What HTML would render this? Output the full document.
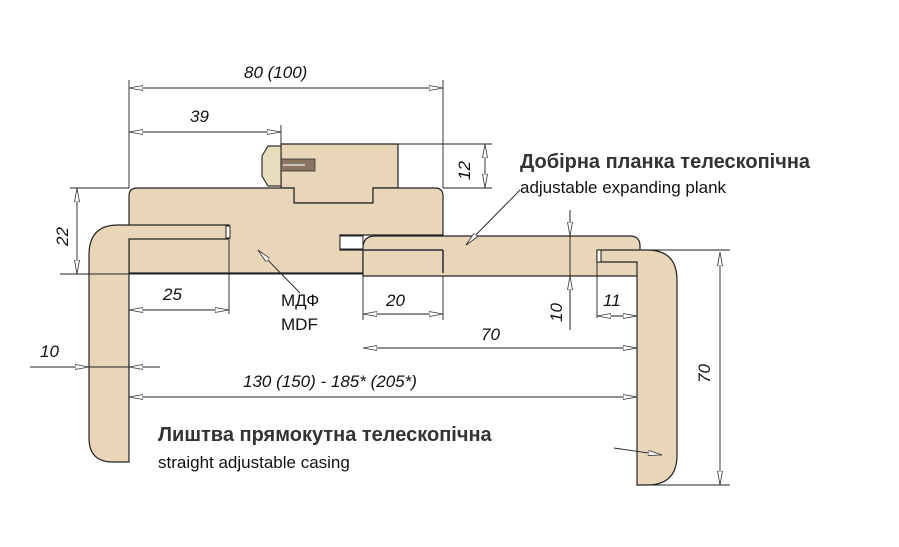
<!DOCTYPE html>
<html><head><meta charset="utf-8"><style>
html,body{margin:0;padding:0;background:#fff;}
svg{display:block;}
text{font-family:"Liberation Sans","DejaVu Sans",sans-serif;}
</style></head><body>
<svg width="899" height="547" viewBox="0 0 899 547" xmlns="http://www.w3.org/2000/svg">
<defs>
<marker id="a" viewBox="0 0 14 6" refX="14" refY="3" markerWidth="14" markerHeight="6" orient="auto-start-reverse" markerUnits="userSpaceOnUse">
<path d="M0,0.5 L14,3 L0,5.5 Z" fill="#fff" stroke="#333" stroke-width="0.8"/></marker>
</defs>
<g fill="#e9d6b9" stroke="#222" stroke-width="1.2">
<!-- top small plank -->
<path d="M281,144 H398 V188 H373 V203 H294 V188 H281 Z"/>
<!-- main frame -->
<path d="M137,188 H294 V203 H373 V188 H435 Q443,188 443,196 V235 H340 V250 H363 V273 H129 V196 Q129,188 137,188 Z"/>
<!-- telescopic plank -->
<path d="M375,236 H630 Q640,236 640,246 V276 H363 V248 Q363,236 375,236 Z"/>
<!-- left casing -->
<path d="M118,225 H229 V239 H129 V462 H113 Q89,462 89,438 V255 Q89,225 118,225 Z"/>
<!-- right casing -->
<path d="M597,250 H647 Q677,250 677,280 V455 Q677,485 647,485 H637 V262 H597 Z"/>
</g>
<!-- slots -->
<g fill="#fff" stroke="#222" stroke-width="1">
<rect x="340" y="236" width="23" height="13"/>
<rect x="226" y="226" width="4" height="12"/>
<rect x="597" y="250" width="4" height="12"/>
</g>
<path d="M129,239 H229" stroke="#222" stroke-width="1"/>
<path d="M363,250 H443 M443,250 V273" stroke="#555" stroke-width="2" fill="none"/>
<!-- clip -->
<path d="M268,146 H281 V186 H268 L262,176 V156 Z" fill="#e7dcbc" stroke="#333" stroke-width="1.2"/>
<rect x="281" y="159" width="34" height="12" fill="#8a7560" stroke="#333" stroke-width="0.8"/>
<path d="M283,165 H305" stroke="#ddd" stroke-width="1.5"/>
<!-- extension lines -->
<g stroke="#222" stroke-width="0.9" fill="none">
<path d="M129,80 V188 M443,80 V188 M281,125 V144 M398,144 H492 M443,188 H492"/>
<path d="M70,188 H129 M60,274 H363"/>
<path d="M229,240 V314 M363,276 V320 M443,276 V320 M597,262 V318 M637,276 V318"/>
<path d="M570,210 V330 M640,250 H730 M637,485 H730"/>
<path d="M30,367 H160"/>
</g>
<!-- dimension lines -->
<g stroke="#222" stroke-width="0.9" fill="none" marker-start="url(#a)" marker-end="url(#a)">
<path d="M129,88 H443"/>
<path d="M129,132 H281"/>
<path d="M485,144 V188"/>
<path d="M77,188 V274"/>
<path d="M129,310 H229"/>
<path d="M363,314 H443"/>
<path d="M597,316 H637"/>
<path d="M363,348 H637"/>
<path d="M129,397 H637"/>
<path d="M720,252 V485"/>
</g>
<g stroke="#222" stroke-width="0.9" fill="none" marker-end="url(#a)">
<path d="M570,210 V236"/>
<path d="M570,330 V276"/>
<path d="M33,367 H89"/>
<path d="M160,367 H129"/>
<path d="M300,293 L258,250"/>
<path d="M520,190 L466,245"/>
<path d="M614,448 L662,455"/>
</g>
<g font-style="italic" font-size="17" fill="#111">
<text x="244" y="78">80 (100)</text>
<text x="190" y="122">39</text>
<text x="163" y="300">25</text>
<text x="386" y="306">20</text>
<text x="481" y="340">70</text>
<text x="603" y="306">11</text>
<text x="40" y="357">10</text>
<text x="243" y="387">130 (150) - 185* (205*)</text>
<text transform="translate(470,180) rotate(-90)">12</text>
<text transform="translate(68,246) rotate(-90)">22</text>
<text transform="translate(562,322) rotate(-90)">10</text>
<text transform="translate(710,383) rotate(-90)">70</text>
</g>
<g font-size="17" fill="#111">
<text x="281" y="306">МДФ</text>
<text x="281" y="330">MDF</text>
<text x="520" y="168" font-size="20" font-weight="bold" fill="#333">Добірна планка телескопічна</text>
<text x="520" y="193">adjustable expanding plank</text>
<text x="158" y="441" font-size="20" font-weight="bold" fill="#333">Лиштва прямокутна телескопічна</text>
<text x="158" y="468">straight adjustable casing</text>
</g>
</svg>
</body></html>
